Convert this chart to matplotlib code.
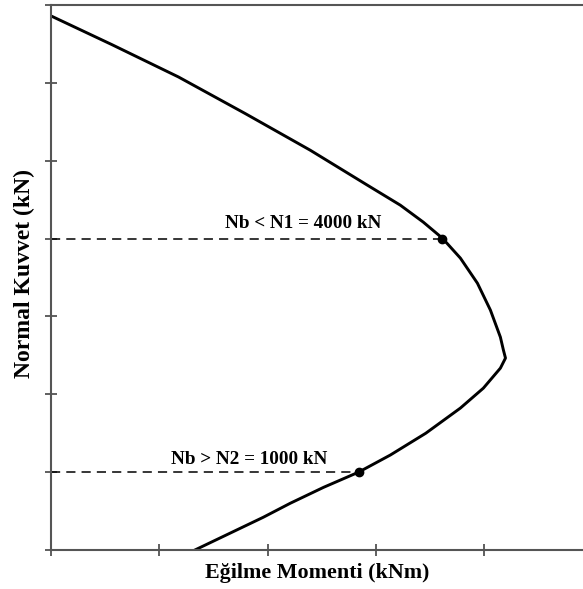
import matplotlib.pyplot as plt

# interaction diagram (moment in tick units, N in 1000 kN)
moment = [0.01, 0.563, 1.178, 1.794, 2.394, 2.921, 3.225, 3.437, 3.613, 3.779,
          3.936, 4.056, 4.148, 4.176, 4.195, 4.148, 3.991, 3.779, 3.46, 3.133,
          2.84, 2.517, 2.209, 1.96, 1.33]
normal = [6.855, 6.492, 6.076, 5.606, 5.135, 4.686, 4.429, 4.211, 4.005, 3.749,
          3.427, 3.081, 2.734, 2.567, 2.465, 2.336, 2.079, 1.823, 1.50, 1.22,
          1.0, 0.805, 0.60, 0.42, 0.0]

# marked points
mark_m = [3.61, 2.84]
mark_n = [4.0, 1.0]
mark_labels = ["Nb < N1 = 4000 kN", "Nb > N2 = 1000 kN"]
label_x = [2.33, 1.83]
label_dy = [0.13, 0.11]

xticks = [0, 1, 2, 3, 4]
yticks = [0, 1, 2, 3, 4, 5, 6, 7]

plt.rcParams['font.family'] = ['Liberation Serif', 'DejaVu Serif']

fig = plt.figure(figsize=(5.83, 5.89), dpi=100)
ax = fig.add_axes([0.087, 0.0662, 0.913, 0.9253])

ax.plot(moment, normal, color='black', lw=2.1, solid_joinstyle='round')
for m, n, lab, lx, dy in zip(mark_m, mark_n, mark_labels, label_x, label_dy):
    ax.plot([0, m], [n, n], color='black', lw=1.1, dashes=(6, 4))
    ax.plot(m, n, 'o', color='black', ms=6)
    ax.text(lx, n + dy, lab, fontsize=13.8, fontweight='bold',
            ha='center', va='baseline')

ax.set_xlim(0, 4.91)
ax.set_ylim(0, 7)
ax.set_xticks(xticks)
ax.set_yticks(yticks)
ax.tick_params(direction='inout', length=9, width=1.2, color='#444444',
               labelbottom=False, labelleft=False)
ax.spines['right'].set_visible(False)
for s in ['left', 'bottom', 'top']:
    ax.spines[s].set_color('#555555')
    ax.spines[s].set_linewidth(1.5)

ax.set_xlabel("Eğilme Momenti (kNm)", fontsize=15.8, fontweight='bold', labelpad=5)
ax.set_ylabel("Normal Kuvvet (kN)", fontsize=17, fontweight='bold')
ax.yaxis.set_label_coords(-0.03, 0.508)

fig.savefig("out.png", dpi=100)
